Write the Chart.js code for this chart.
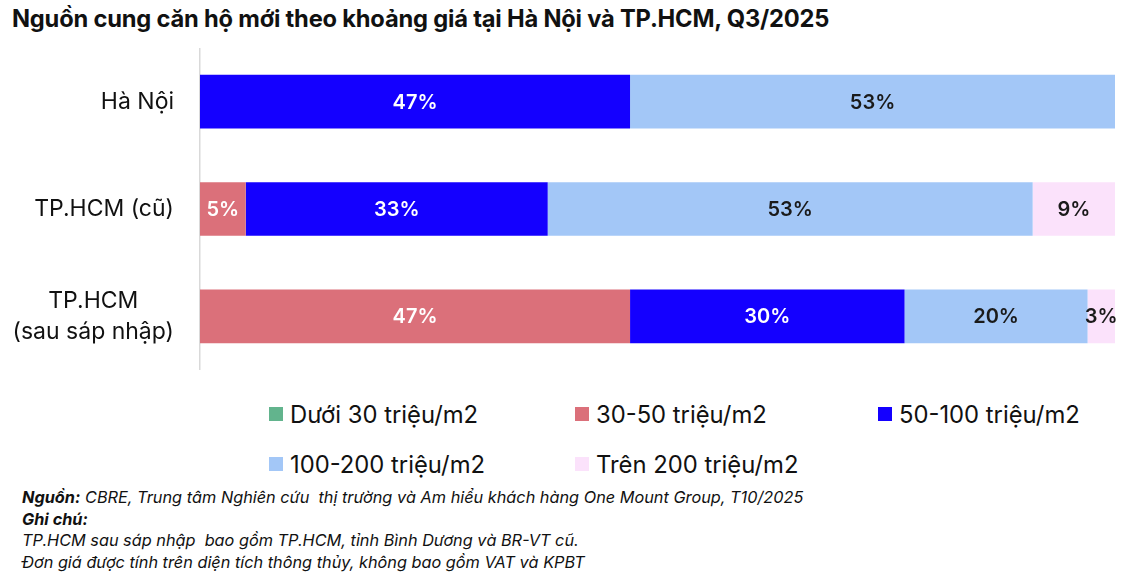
<!DOCTYPE html>
<html lang="vi">
<head>
  <meta charset="UTF-8" />
  <title>Nguồn cung căn hộ mới theo khoảng giá</title>
  <script src="https://cdn.jsdelivr.net/npm/chart.js"></script>
  <style>
    * { box-sizing: border-box; margin: 0; padding: 0; }
    body {
      width: 1129px;
      height: 578px;
      background: #ffffff;
      font-family: 'Inter', 'Noto Sans', sans-serif;
      color: #111;
      position: relative;
      overflow: hidden;
    }
    h1 {
      position: absolute;
      left: 12px;
      top: 4px;
      font-size: 23.7px;
      font-weight: 700;
      letter-spacing: -0.2px;
      white-space: nowrap;
    }
    .chart-box {
      position: absolute;
      left: 0;
      top: 48px;
      width: 1129px;
      height: 322px;
    }
    #legend {
      position: absolute;
      left: 269px;
      top: 400px;
      display: grid;
      grid-template-columns: 306px 303px 260px;
      row-gap: 22px;
    }
    .legend-item {
      display: flex;
      align-items: center;
      font-size: 23.8px;
      height: 28px;
      white-space: nowrap;
    }
    .legend-item span.box {
      width: 14px;
      height: 14px;
      margin-right: 7px;
      display: inline-block;
    }
    .notes {
      position: absolute;
      left: 22px;
      top: 487px;
      font-size: 16.3px;
      font-style: italic;
      line-height: 21.5px;
      white-space: nowrap;
    }
  </style>
</head>
<body>
  <h1>Nguồn cung căn hộ mới theo khoảng giá tại Hà Nội và TP.HCM, Q3/2025</h1>

  <div class="chart-box">
    <canvas id="supplyChart"></canvas>
  </div>

  <div id="legend"></div>

  <div class="notes">
    <div><b>Nguồn:</b> CBRE, Trung tâm Nghiên cứu&nbsp; thị trường và Am hiểu khách hàng One Mount Group, T10/2025</div>
    <div><b>Ghi chú:</b></div>
    <div>TP.HCM sau sáp nhập&nbsp; bao gồm TP.HCM, tỉnh Bình Dương và BR-VT cũ.</div>
    <div>Đơn giá được tính trên diện tích thông thủy, không bao gồm VAT và KPBT</div>
  </div>

  <script>
    // categories (multi-line labels as arrays)
    const regions = ['Hà Nội', 'TP.HCM (cũ)', ['TP.HCM', '(sau sáp nhập)']];

    // price ranges
    const priceRanges = ['Dưới 30 triệu/m2', '30-50 triệu/m2', '50-100 triệu/m2', '100-200 triệu/m2', 'Trên 200 triệu/m2'];

    // shares in % per region
    const under30 = [0, 0, 0];
    const from30to50 = [0, 5, 47];
    const from50to100 = [47, 33, 30];
    const from100to200 = [53, 53, 20];
    const over200 = [0, 9, 3];

    const rangeColors = ['#62b48d', '#db707a', '#1400ff', '#a3c7f7', '#fbe2fb'];
    const labelColors = ['#ffffff', '#ffffff', '#ffffff', '#1a1a1a', '#1a1a1a'];

    const seriesValues = [under30, from30to50, from50to100, from100to200, over200];

    // draws the % text in the middle of each bar segment
    const valueLabels = {
      id: 'valueLabels',
      afterDatasetsDraw(chart) {
        const ctx = chart.ctx;
        ctx.save();
        ctx.font = '600 20px Inter, "Noto Sans", sans-serif';
        ctx.textAlign = 'center';
        ctx.textBaseline = 'middle';
        chart.data.datasets.forEach((ds, i) => {
          const meta = chart.getDatasetMeta(i);
          meta.data.forEach((bar, j) => {
            const v = ds.data[j];
            if (!v) return;
            const { x, y, base } = bar.getProps(['x', 'y', 'base'], true);
            ctx.fillStyle = labelColors[i];
            ctx.fillText(v + '%', (x + base) / 2, y + 1);
          });
        });
        ctx.restore();
      }
    };

    // category labels: block right aligned, lines centred inside block
    const categoryLabels = {
      id: 'categoryLabels',
      afterDraw(chart) {
        const ctx = chart.ctx;
        const yScale = chart.scales.y;
        const right = chart.chartArea.left - 26;
        const lineH = 31;
        ctx.save();
        ctx.font = '400 23px Inter, "Noto Sans", sans-serif';
        ctx.fillStyle = '#111111';
        ctx.textAlign = 'center';
        ctx.textBaseline = 'middle';
        chart.data.labels.forEach((label, i) => {
          const lines = Array.isArray(label) ? label : [label];
          const w = Math.max(...lines.map(l => ctx.measureText(l).width));
          const cx = right - w / 2;
          const cy = yScale.getPixelForValue(i);
          lines.forEach((l, k) => {
            const yy = cy + (k - (lines.length - 1) / 2) * lineH;
            ctx.fillText(l, cx, yy);
          });
        });
        ctx.restore();
      }
    };

    const chart = new Chart(document.getElementById('supplyChart'), {
      type: 'bar',
      data: {
        labels: regions,
        datasets: priceRanges.map((name, i) => ({
          label: name,
          data: seriesValues[i],
          backgroundColor: rangeColors[i],
          borderWidth: 0,
          barPercentage: 0.5,
          categoryPercentage: 1
        }))
      },
      options: {
        indexAxis: 'y',
        responsive: true,
        maintainAspectRatio: false,
        animation: false,
        layout: { padding: { right: 14, top: 0, bottom: 0 } },
        plugins: {
          legend: { display: false },
          tooltip: { enabled: false }
        },
        scales: {
          x: {
            stacked: true,
            min: 0,
            max: 100,
            display: false
          },
          y: {
            stacked: true,
            grid: { display: false },
            border: { display: true, color: '#d9d9d9', width: 1.5 },
            ticks: { display: false },
            afterFit(scale) { scale.width = 200; }
          }
        }
      },
      plugins: [valueLabels, categoryLabels]
    });

    // HTML legend built from the chart datasets
    const legendEl = document.getElementById('legend');
    chart.data.datasets.forEach(ds => {
      const item = document.createElement('div');
      item.className = 'legend-item';
      item.innerHTML = `<span class="box" style="background:${ds.backgroundColor}"></span>${ds.label}`;
      legendEl.appendChild(item);
    });
  </script>
</body>
</html>
